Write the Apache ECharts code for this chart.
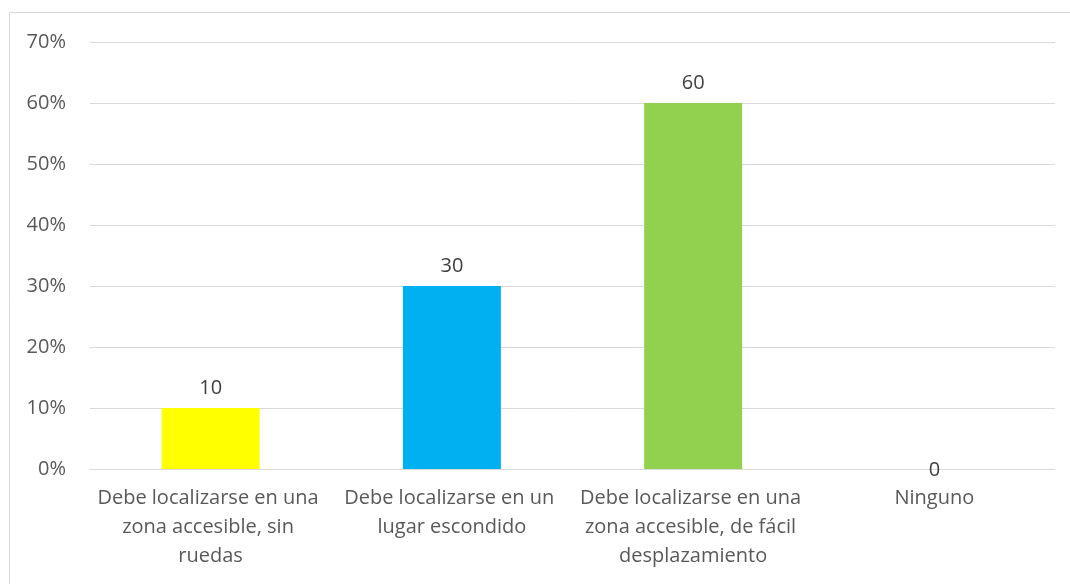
<!DOCTYPE html>
<html>
<head>
<meta charset="utf-8"/>
<title>Ubicación</title>
<script src="https://cdn.jsdelivr.net/npm/echarts@6/dist/echarts.min.js"></script>
<style>
html, body { margin: 0; padding: 0; background: #fff; }
#main { width: 1070px; height: 584px; }
</style>
</head>
<body>
<div id="main"></div>
<script type="text/javascript">
var categories = [
	'Debe localizarse en una zona accesible, sin ruedas',
	'Debe localizarse en un lugar escondido',
	'Debe localizarse en una zona accesible, de fácil desplazamiento',
	'Ninguno'
];
var values = [10, 30, 60, 0];
var barColors = ['#FFFF00', '#00B0F0', '#92D050', '#A5A5A5'];

var myChart = echarts.init(document.getElementById('main'));
var textColor = '#595959';
var fontName = 'Open Sans';

var option = {
	animation: false,
	textStyle: { fontFamily: fontName },
	graphic: [{
		type: 'rect',
		shape: { x: 9.5, y: 12.5, width: 1070, height: 600 },
		style: { fill: 'none', stroke: '#d9d9d9', lineWidth: 1 },
		silent: true
	}],
	grid: {
		left: 90,
		right: 15,
		top: 42,
		bottom: 115
	},
	xAxis: {
		type: 'category',
		data: categories,
		axisLine: { lineStyle: { color: '#d9d9d9' } },
		axisTick: { show: false },
		axisLabel: {
			color: textColor,
			fontSize: 20,
			fontFamily: fontName,
			lineHeight: 29,
			margin: 15,
			width: 232,
			overflow: 'break',
			interval: 0
		}
	},
	yAxis: {
		type: 'value',
		min: 0,
		max: 70,
		interval: 10,
		axisLine: { show: false },
		axisTick: { show: false },
		splitLine: { lineStyle: { color: '#d9d9d9' } },
		axisLabel: {
			formatter: '{value}%',
			color: textColor,
			fontSize: 20,
			fontFamily: fontName,
			margin: 24
		}
	},
	series: [{
		type: 'bar',
		barWidth: 98,
		data: values.map(function (v, i) {
			var item = { value: v, itemStyle: { color: barColors[i] } };
			if (v === 0) { item.label = { offset: [0, 21] }; }
			return item;
		}),
		label: {
			show: true,
			position: 'top',
			distance: 10,
			color: '#404040',
			fontSize: 20,
			fontFamily: fontName
		}
	}]
};

myChart.setOption(option);
</script>
</body>
</html>
